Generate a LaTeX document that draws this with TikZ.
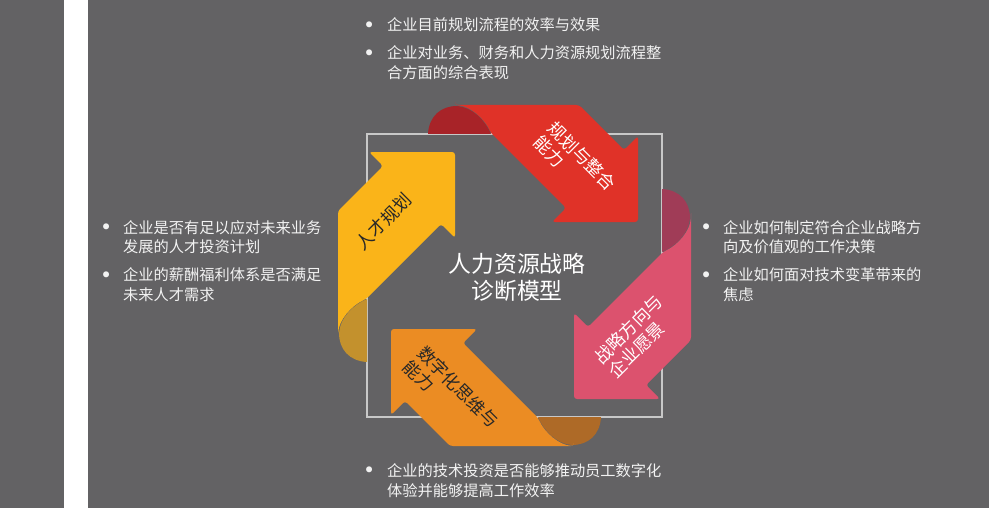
\documentclass[tikz,border=0pt]{standalone}
\usepackage{fontspec}
\setmainfont{Noto Sans CJK SC}
\definecolor{bggray}{RGB}{99,98,100}
\definecolor{boxline}{RGB}{200,200,200}
\definecolor{planred}{RGB}{224,50,40}
\definecolor{planreddark}{RGB}{168,35,40}
\definecolor{visionpink}{RGB}{220,82,110}
\definecolor{visionpinkdark}{RGB}{160,60,87}
\definecolor{digitalorange}{RGB}{235,140,35}
\definecolor{digitalorangedark}{RGB}{174,106,39}
\definecolor{talentyellow}{RGB}{250,180,25}
\definecolor{talentyellowdark}{RGB}{195,145,45}
\definecolor{itemtext}{RGB}{242,242,242}
\definecolor{darklabel}{RGB}{40,40,40}
% one ribbon arrow, drawn round the centre of the box (top position)
\newcommand{\ribbonfold}{(-86.5,-141.5) .. controls (-85.5,-159.5) and (-73.5,-169.5) .. (-57.5,-169.5) .. controls (-42.5,-168.5) and (-29.5,-155.5) .. (-23.5,-141.5) -- cycle}
\newcommand{\ribbonbody}{(-59.5,-170.5) -- (64.5,-170.5) -- (109.5,-125.5) -- (123.5,-139.5) -- (123.5,-53.5) -- (37.5,-53.5) -- (51.5,-67.5) -- (-23.5,-142.5) .. controls (-30.5,-157.5) and (-44.5,-169.5) .. (-59.5,-170.5) -- cycle}
\begin{document}
\begin{tikzpicture}[x=0.03cm, y=-0.03cm,
  item/.style={text=itemtext, font=\fontsize{13}{16.6}\selectfont, align=left, inner sep=0pt, anchor=west},
  bulletdot/.style={text=itemtext, font=\fontsize{24}{24}\selectfont, inner sep=0pt},
  ribbontext/.style={font=\fontsize{15}{17}\selectfont, align=left, inner sep=0pt},
  ribbon/.style={rounded corners=2.5pt}]
  \useasboundingbox (0,0) rectangle (989,508);
  \fill[bggray] (0,0) rectangle (989,508);
  \fill[white] (64,0) rectangle (88,508);
  \draw[boxline, line width=1.5pt] (367,134) rectangle (662,417);

  % ribbons
  \begin{scope}[shift={(514.5,275.5)}]
    \fill[planreddark] \ribbonfold;
    \fill[planred, ribbon] \ribbonbody;
  \end{scope}
  \begin{scope}[shift={(520.5,275.5)}, rotate=-90]
    \fill[visionpinkdark] \ribbonfold;
    \fill[visionpink, ribbon] \ribbonbody;
  \end{scope}
  \begin{scope}[shift={(514.5,275.5)}, rotate=180]
    \fill[digitalorangedark] \ribbonfold;
    \fill[digitalorange, ribbon] \ribbonbody;
  \end{scope}
  \begin{scope}[shift={(508.5,275.5)}, rotate=90]
    \fill[talentyellowdark] \ribbonfold;
    \fill[talentyellow, ribbon] \ribbonbody;
  \end{scope}

  % ribbon labels
  \node[ribbontext, text=white, rotate=-45] (planlabel) at (575,163) {规划与整合\\能力};
  \node[ribbontext, text=white, rotate=45] (visionlabel) at (635.5,336.5) {战略方向与\\企业愿景};
  \node[ribbontext, text=darklabel, rotate=-45] (digitallabel) at (451,394) {数字化思维与\\能力};
  \node[ribbontext, text=darklabel, rotate=45] (talentlabel) at (383.5,221.5) {人才规划};

  \node[text=white, font=\fontsize{19.5}{23}\selectfont, align=center, inner sep=0pt] (title) at (517,277) {人力资源战略\\诊断模型};

  % questions
  \node[bulletdot] (topdotA) at (370,29) {•};
  \node[item] (topitemA) at (387,25) {企业目前规划流程的效率与效果};
  \node[bulletdot] (topdotB) at (370,57) {•};
  \node[item] (topitemB) at (387,62.5) {企业对业务、财务和人力资源规划流程整\\合方面的综合表现};

  \node[bulletdot] (rightdotA) at (707,231) {•};
  \node[item] (rightitemA) at (723,237) {企业如何制定符合企业战略方\\向及价值观的工作决策};
  \node[bulletdot] (rightdotB) at (707,279) {•};
  \node[item] (rightitemB) at (723,284.5) {企业如何面对技术变革带来的\\焦虑};

  \node[bulletdot] (leftdotA) at (107,231) {•};
  \node[item] (leftitemA) at (123,237) {企业是否有足以应对未来业务\\发展的人才投资计划};
  \node[bulletdot] (leftdotB) at (107,279) {•};
  \node[item] (leftitemB) at (123,284.5) {企业的薪酬福利体系是否满足\\未来人才需求};

  \node[bulletdot] (bottomdot) at (370,474) {•};
  \node[item] (bottomitem) at (387,480.5) {企业的技术投资是否能够推动员工数字化\\体验并能够提高工作效率};
\end{tikzpicture}
\end{document}
